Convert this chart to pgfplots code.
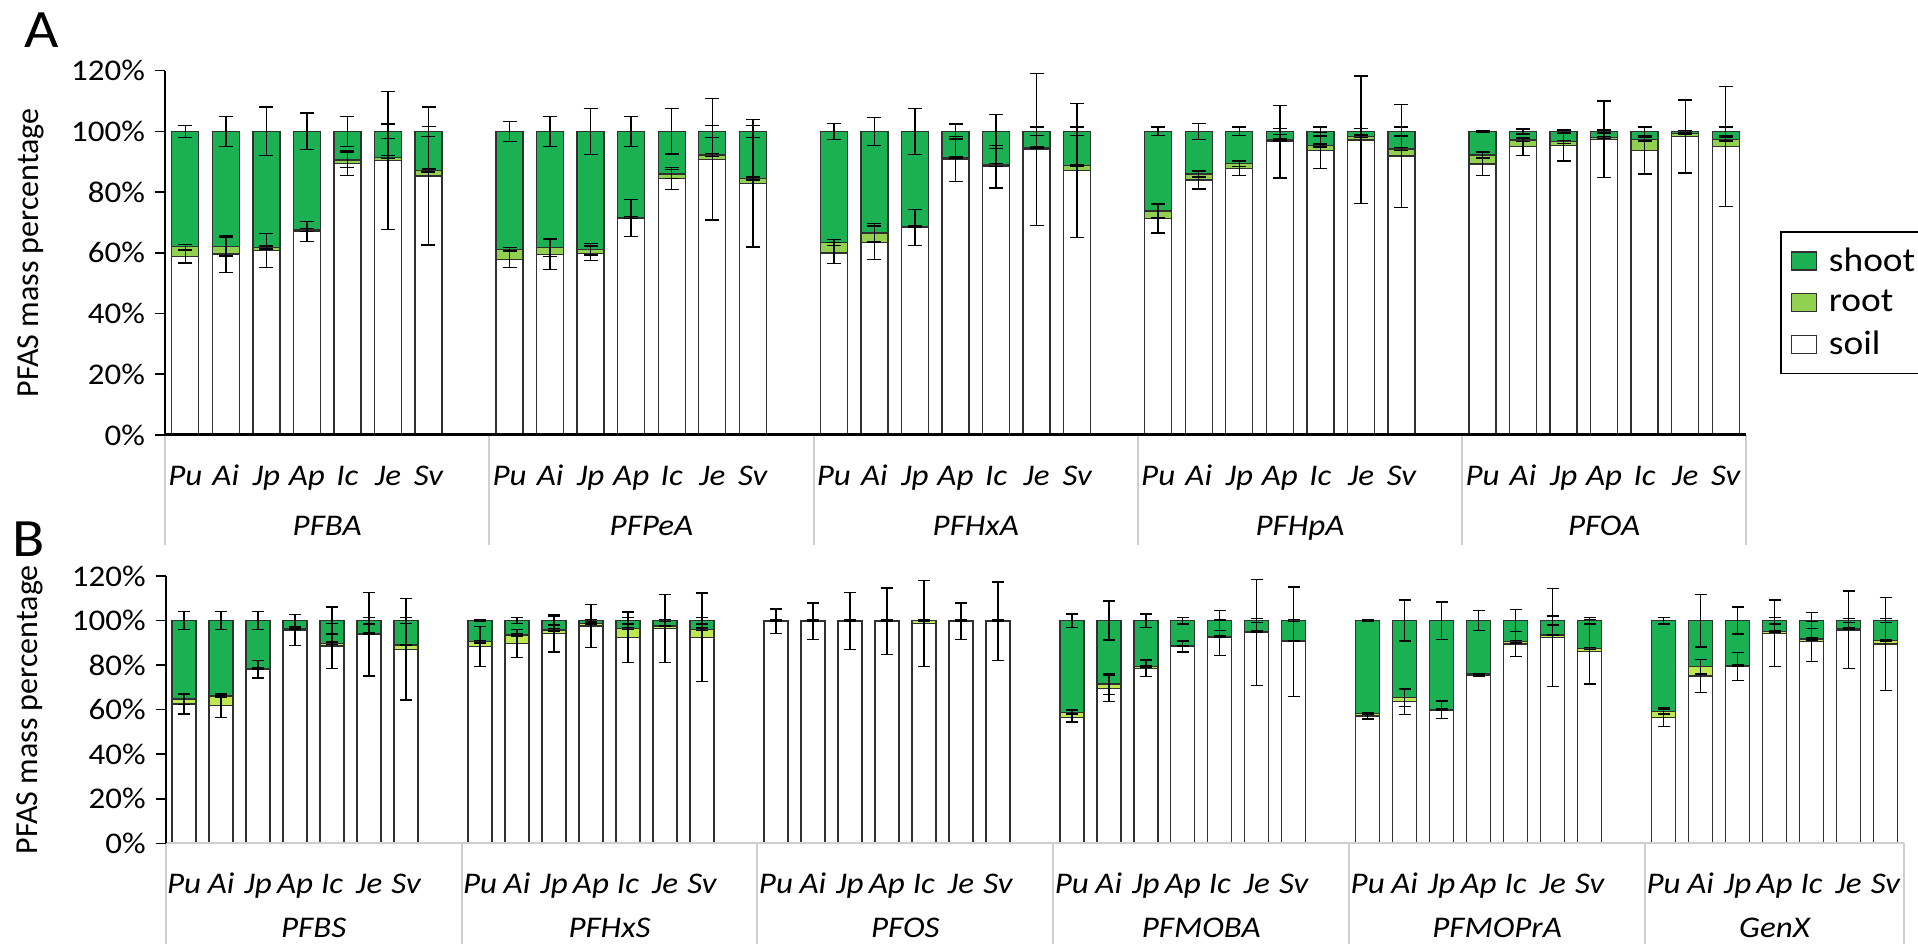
\documentclass[border=0pt]{standalone}
\usepackage{fontspec}
\setmainfont{Carlito}[FakeStretch=1.1]
\newfontfamily\ylfont{Carlito}
\usepackage{pgfplots}
\usepackage{pgfplotstable}
\pgfplotsset{compat=1.18}
\definecolor{shoot}{HTML}{1BB153}
\definecolor{rootA}{HTML}{92D050}
\definecolor{rootB}{HTML}{BDE84F}
\definecolor{barline}{HTML}{303030}
\definecolor{sepgray}{HTML}{CFCFCF}
\newcommand\lf{\fontsize{15}{18}\selectfont}

% x: slot position (group*8 + species index); soil, root, shoot in %; es, er, esh: error of soil, root, shoot tops
\pgfplotstableread{
x  soil root shoot es   er  esh
0  58.7 3.3  38.0  2.0  0.8 2.0
1  59.6 2.4  38.0  6.0  3.0 5.0
2  60.7 1.1  38.2  5.6  0.5 8.0
3  67.0 0.5  32.5  3.3  0.5 6.0
4  89.5 1.1  9.4   4.0  2.5 5.0
5  90.4 1.1  8.5   22.8 0.5 2.4
6  85.3 1.8  12.9  22.7 0.5 1.6
8  57.9 3.3  38.8  2.7  0.5 3.3
9  59.5 2.3  38.2  5.0  3.0 5.0
10 59.8 1.4  38.8  2.4  1.9 7.6
11 71.4 0.3  28.3  6.1  0.3 5.0
12 84.5 1.5  14.0  3.6  1.5 7.5
13 90.8 1.4  7.8   20.0 0.5 2.0
14 82.9 1.6  15.5  21.0 0.5 2.0
16 60.0 3.4  36.6  3.5  1.0 2.7
17 63.4 3.2  33.4  5.5  3.0 4.6
18 68.4 0.2  31.4  5.9  0.3 7.6
19 90.9 0.4  8.7   7.4  0.3 2.5
20 88.4 0.5  11.1  7.0  0.5 5.6
21 94.1 0.5  5.4   25.0 0.3 1.4
22 87.1 1.6  11.3  22.0 0.3 1.4
24 71.4 2.4  26.2  4.8  2.3 1.4
25 84.0 2.0  14.0  3.0  1.0 2.7
26 87.8 1.7  10.5  2.4  1.0 1.4
27 96.6 0.6  2.8   12.0 0.3 1.0
28 93.7 1.6  4.7   6.0  0.5 1.5
29 97.2 1.1  1.7   21.0 0.3 1.0
30 91.9 2.3  5.8   17.0 0.5 1.5
32 89.3 2.9  7.8   3.9  1.0 0.2
33 95.0 2.2  2.8   3.0  0.5 0.8
34 95.3 1.3  3.4   5.0  0.5 0.5
35 97.4 0.6  2.0   12.6 0.3 0.5
36 93.7 3.7  2.6   7.7  0.5 1.5
37 98.3 1.1  0.6   12.0 0.3 0.3
38 95.0 2.4  2.6   19.8 0.5 1.5
}\dataA

\pgfplotstableread{
x  soil root shoot es   er  esh
0  62.5 2.3  35.2  4.5  2.5 4.0
1  61.8 4.3  33.9  5.2  0.5 4.0
2  78.1 0.5  21.4  3.9  0.3 4.0
3  95.8 0.7  3.5   7.0  0.3 2.8
4  88.6 1.2  10.2  10.0 0.5 6.0
5  93.8 0.5  5.7   18.7 0.3 1.5
6  87.1 1.9  11.0  22.7 0.3 1.3
8  88.3 2.2  9.5   9.0  0.5 0.3
9  89.8 3.7  6.5   6.3  0.5 1.3
10 94.3 1.5  4.2   8.4  0.5 2.0
11 97.6 1.2  1.2   9.7  0.3 0.5
12 92.5 4.0  3.5   11.4 0.5 1.5
13 96.5 1.1  2.4   15.3 0.3 0.5
14 92.5 3.6  3.9   19.8 0.5 1.5
16 99.7 0.3  0.0   5.4  0.3 0.2
17 99.7 0.3  0.0   8.2  0.3 0.2
18 99.7 0.3  0.0   12.8 0.3 0.2
19 99.7 0.3  0.0   15.0 0.3 0.2
20 98.8 1.2  0.0   19.3 0.3 0.2
21 99.7 0.3  0.0   8.2  0.3 0.2
22 99.7 0.3  0.0   17.6 0.3 0.2
24 56.4 2.4  41.2  2.0  1.0 3.0
25 69.6 1.9  28.5  6.0  4.8 8.8
26 78.6 0.7  20.7  3.7  0.3 3.0
27 88.3 0.3  11.4  2.5  0.3 1.5
28 92.3 0.5  7.2   8.0  0.3 4.5
29 94.6 0.4  5.0   23.8 0.3 1.0
30 90.5 0.3  9.2   24.5 0.3 0.5
32 57.2 1.2  41.6  1.4  0.3 0.2
33 63.6 1.9  34.5  5.7  4.0 9.2
34 59.9 0.3  39.8  3.9  0.3 8.4
35 75.6 0.4  24.0  0.5  0.3 4.6
36 89.5 1.0  9.5   5.7  0.5 5.0
37 92.5 1.0  6.5   22.0 0.3 2.0
38 86.0 1.5  12.5  14.5 0.5 1.5
40 56.6 2.5  40.9  4.2  1.0 1.5
41 75.1 4.2  20.7  7.5  3.3 11.8
42 79.3 0.5  20.2  6.3  0.3 6.0
43 94.3 0.7  5.0   15.0 0.3 1.5
44 90.5 1.2  8.3   9.0  0.5 3.5
45 95.8 0.7  3.5   17.4 0.3 1.0
46 89.5 1.5  9.0   20.8 0.3 1.0
}\dataB

\pgfplotsset{
  panel/.style={
    scale only axis, clip=false, axis on top,
    ymin=0, ymax=120, ytick={0,20,...,120},
    /pgf/number format/assume math mode=true,
    yticklabel={\pgfmathprintnumber{\tick}\%},
    yticklabel style={font=\lf, xshift=-1.5pt},
    axis x line*=bottom, axis y line*=left,
    tick align=outside, major tick length=5pt,
    ytick style={black, line width=0.8pt},
    xtick style={draw=none},
    xticklabel style={font=\lf\itshape, anchor=base, yshift=-20pt},
    y axis line style={black, line width=1pt},
    ylabel={\ylfont\fontsize{16}{19}\selectfont PFAS mass percentage},
    legend image code/.code={\draw[#1, line width=0.6pt] (0pt,-4.5pt) rectangle (12.5pt,4.5pt);},
  },
  barA/.style={ybar, bar shift=0pt, bar width=13.5pt, draw=barline, line width=0.7pt},
  barB/.style={ybar, bar shift=0pt, bar width=12pt, draw=barline, line width=0.7pt},
  errA/.style={forget plot, sharp plot, draw=none, mark=none,
    error bars/.cd, y dir=both, y explicit,
    error bar style={draw=black, line width=0.7pt},
    error mark options={rotate=90, mark size=3.5pt, draw=black, line width=0.7pt}},
  errB/.style={forget plot, sharp plot, draw=none, mark=none,
    error bars/.cd, y dir=both, y explicit,
    error bar style={draw=black, line width=0.7pt},
    error mark options={rotate=90, mark size=3pt, draw=black, line width=0.7pt}},
}

\begin{document}
\begin{tikzpicture}
\useasboundingbox (0,0) rectangle (959pt,471.5pt);
\node[anchor=base west, inner sep=0pt, font=\fontsize{27}{30}\selectfont] at (12pt,447.5pt) {A};
\node[anchor=base west, inner sep=0pt, font=\fontsize{27}{30}\selectfont] at (6pt,193pt) {B};

% ---------------- Panel A ----------------
\begin{axis}[panel,
  at={(82.5pt,254pt)}, anchor=south west,
  width=790.5pt, height=182.15pt,
  xmin=-0.5, xmax=38.5,
  x axis line style={black, line width=1.5pt},
  ylabel style={at={(axis description cs:-0.0848,0.5)}, anchor=center},
  xtick={0,1,2,3,4,5,6,8,9,10,11,12,13,14,16,17,18,19,20,21,22,24,25,26,27,28,29,30,32,33,34,35,36,37,38},
  xticklabels={Pu,Ai,Jp,Ap,Ic,Je,Sv,Pu,Ai,Jp,Ap,Ic,Je,Sv,Pu,Ai,Jp,Ap,Ic,Je,Sv,Pu,Ai,Jp,Ap,Ic,Je,Sv,Pu,Ai,Jp,Ap,Ic,Je,Sv},
  legend style={at={(1.0215,0.56)}, anchor=north west, draw=black, line width=0.8pt,
    font=\fontsize{17}{20}\selectfont, row sep=4pt, inner xsep=5pt, inner ysep=6pt,
    nodes={inner sep=2pt},
    /tikz/every odd column/.append style={column sep=4pt}},
  legend cell align=left,
]
\addplot[barA, fill=shoot] table[x=x, y expr=\thisrow{soil}+\thisrow{root}+\thisrow{shoot}] {\dataA};
\addlegendentry{shoot}
\addplot[barA, fill=rootA] table[x=x, y expr=\thisrow{soil}+\thisrow{root}] {\dataA};
\addlegendentry{root}
\addplot[barA, fill=white] table[x=x, y=soil] {\dataA};
\addlegendentry{soil}
\addplot[errA] table[x=x, y expr=\thisrow{soil}+\thisrow{root}+\thisrow{shoot}, y error=esh] {\dataA};
\addplot[errA] table[x=x, y expr=\thisrow{soil}+\thisrow{root}, y error=er] {\dataA};
\addplot[errA] table[x=x, y=soil, y error=es] {\dataA};
\pgfplotsinvokeforeach{-0.5,7.5,15.5,23.5,31.5,38.5}{
  \draw[sepgray, line width=1pt] (axis cs:#1,0) -- ++(0pt,-55pt);
}
\node[anchor=base, font=\lf\itshape] at ([yshift=-50.5pt]axis cs:3.5,0) {PFBA};
\node[anchor=base, font=\lf\itshape] at ([yshift=-50.5pt]axis cs:11.5,0) {PFPeA};
\node[anchor=base, font=\lf\itshape] at ([yshift=-50.5pt]axis cs:19.5,0) {PFHxA};
\node[anchor=base, font=\lf\itshape] at ([yshift=-50.5pt]axis cs:27.5,0) {PFHpA};
\node[anchor=base, font=\lf\itshape] at ([yshift=-50.5pt]axis cs:35,0) {PFOA};
\end{axis}

% ---------------- Panel B ----------------
\begin{axis}[panel,
  at={(82.85pt,49.85pt)}, anchor=south west,
  width=869.15pt, height=133.65pt,
  xmin=-0.5, xmax=46.5,
  x axis line style={sepgray, line width=1pt},
  ylabel style={at={(axis description cs:-0.0781,0.5)}, anchor=center},
  xtick={0,1,2,3,4,5,6,8,9,10,11,12,13,14,16,17,18,19,20,21,22,24,25,26,27,28,29,30,32,33,34,35,36,37,38,40,41,42,43,44,45,46},
  xticklabels={Pu,Ai,Jp,Ap,Ic,Je,Sv,Pu,Ai,Jp,Ap,Ic,Je,Sv,Pu,Ai,Jp,Ap,Ic,Je,Sv,Pu,Ai,Jp,Ap,Ic,Je,Sv,Pu,Ai,Jp,Ap,Ic,Je,Sv,Pu,Ai,Jp,Ap,Ic,Je,Sv},
]
\addplot[barB, fill=shoot] table[x=x, y expr=\thisrow{soil}+\thisrow{root}+\thisrow{shoot}] {\dataB};
\addplot[barB, fill=rootB] table[x=x, y expr=\thisrow{soil}+\thisrow{root}] {\dataB};
\addplot[barB, fill=white] table[x=x, y=soil] {\dataB};
\addplot[errB] table[x=x, y expr=\thisrow{soil}+\thisrow{root}+\thisrow{shoot}, y error=esh] {\dataB};
\addplot[errB] table[x=x, y expr=\thisrow{soil}+\thisrow{root}, y error=er] {\dataB};
\addplot[errB] table[x=x, y=soil, y error=es] {\dataB};
\pgfplotsinvokeforeach{-0.5,7.5,15.5,23.5,31.5,39.5,46.5}{
  \draw[sepgray, line width=1pt] (axis cs:#1,0) -- ++(0pt,-52pt);
}
\node[anchor=base, font=\lf\itshape] at ([yshift=-47.3pt]axis cs:3.5,0) {PFBS};
\node[anchor=base, font=\lf\itshape] at ([yshift=-47.3pt]axis cs:11.5,0) {PFHxS};
\node[anchor=base, font=\lf\itshape] at ([yshift=-47.3pt]axis cs:19.5,0) {PFOS};
\node[anchor=base, font=\lf\itshape] at ([yshift=-47.3pt]axis cs:27.5,0) {PFMOBA};
\node[anchor=base, font=\lf\itshape] at ([yshift=-47.3pt]axis cs:35.5,0) {PFMOPrA};
\node[anchor=base, font=\lf\itshape] at ([yshift=-47.3pt]axis cs:43,0) {GenX};
\end{axis}
\end{tikzpicture}
\end{document}
